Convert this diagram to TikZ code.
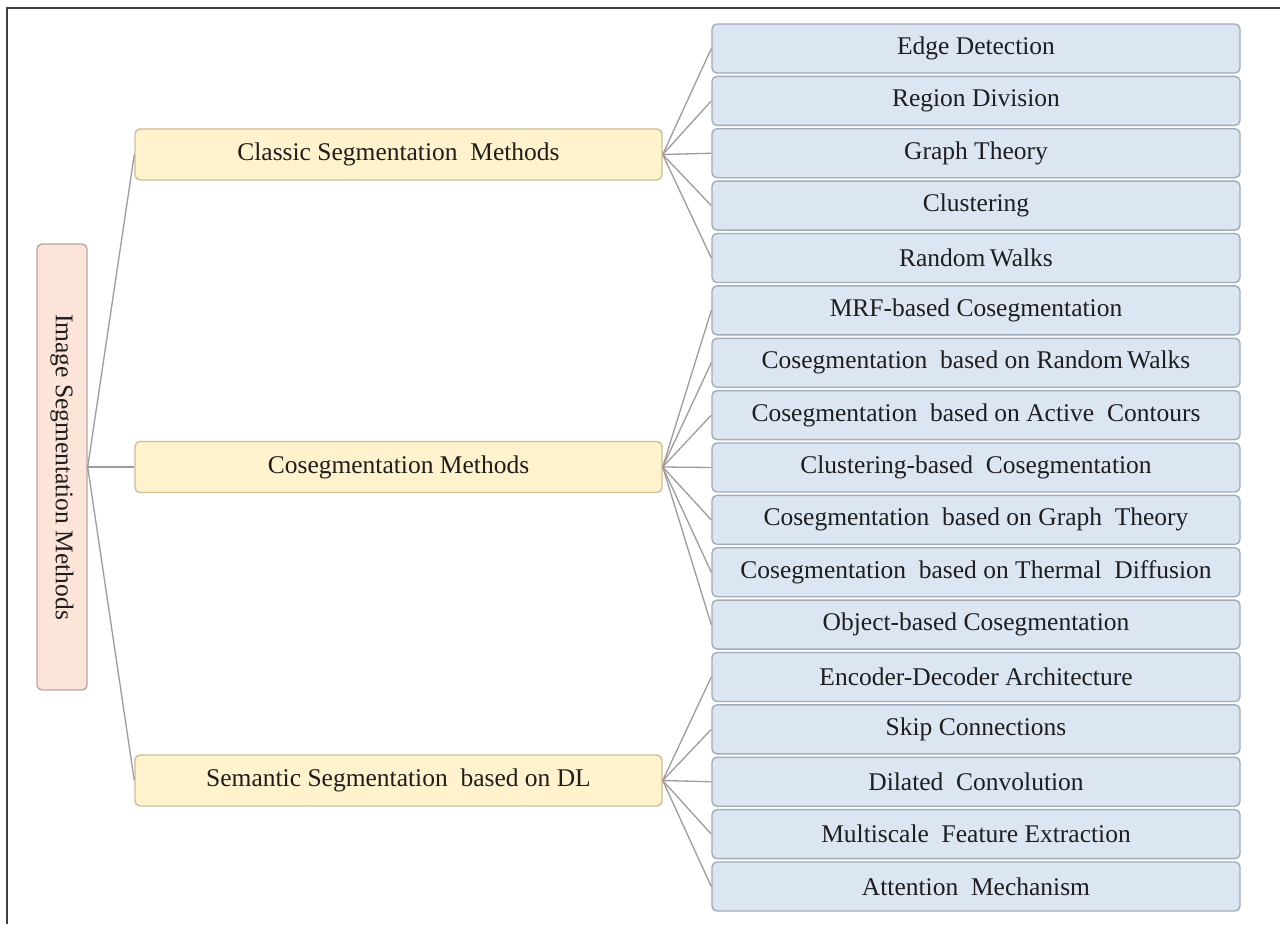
\documentclass[tikz,border=0pt]{standalone}
\usepackage{fontspec}
\setmainfont{Liberation Serif}
\definecolor{leaffill}{HTML}{DCE6F2}
\definecolor{leafline}{HTML}{A0ACBB}
\definecolor{midfill}{HTML}{FFF2CC}
\definecolor{midline}{HTML}{CDBF95}
\definecolor{rootfill}{HTML}{FCE4D8}
\definecolor{rootline}{HTML}{B8A79F}
\definecolor{linkcol}{HTML}{9C9C9C}
\definecolor{txt}{HTML}{1E1E1E}
\begin{document}
\begin{tikzpicture}[x=1pt,y=-1pt,
  boxbase/.style={rounded corners=5pt, line width=1.4pt, inner sep=0pt,
    text=txt, font=\fontsize{25.5}{30}\selectfont},
  leafbox/.style={boxbase, draw=leafline, fill=leaffill,
    minimum width=528pt, minimum height=49pt},
  midbox/.style={boxbase, draw=midline, fill=midfill,
    minimum width=527pt, minimum height=51pt},
  rootbox/.style={boxbase, draw=rootline, fill=rootfill,
    minimum width=446pt, minimum height=50pt, rotate=-90},
  link/.style={draw=linkcol, line width=1.3pt},
  frameline/.style={draw=black!75, line width=1.2pt}]
\useasboundingbox (0,0) rectangle (1280,924);
\fill[white] (0,0) rectangle (1280,924);
\draw[frameline] (7,924) -- (7,8) -- (1280,8);

% root (turned clockwise, so its north side faces right)
\node[rootbox] (root) at (62,467) {Image Segmentation Methods};

% second level
\node[midbox] (m1) at (398.5,154.5) {Classic Segmentation\ \ Methods};
\node[midbox] (m2) at (398.5,467) {Cosegmentation Methods};
\node[midbox] (m3) at (398.5,780.5) {Semantic Segmentation\ \ based on DL};

% leaves
\foreach \i/\t in {
  0/{Edge Detection},
  1/{Region Division},
  2/{Graph Theory},
  3/{Clustering},
  4/{Random\,Walks},
  5/{MRF-based Cosegmentation},
  6/{Cosegmentation\ \ based on Random\,Walks},
  7/{Cosegmentation\ \ based on Active\ \ Contours},
  8/{Clustering-based\ \ Cosegmentation},
  9/{Cosegmentation\ \ based on Graph\ \ Theory},
  10/{Cosegmentation\ \ based on Thermal\ \ Diffusion},
  11/{Object-based Cosegmentation},
  12/{Encoder-Decoder Architecture},
  13/{Skip Connections},
  14/{Dilated\ \ Convolution},
  15/{Multiscale\ \ Feature Extraction},
  16/{Attention\ \ Mechanism}}
{
  \node[leafbox] (l\i) at (976,48.5+52.375*\i) {\t};
}

% root to second level
\foreach \m in {m1,m2,m3}
  \draw[link] (root.north) -- (\m.west);

% second level to leaves
\foreach \i in {0,...,4}
  \draw[link] (m1.east) -- (l\i.west);
\foreach \i in {5,...,11}
  \draw[link] (m2.east) -- (l\i.west);
\foreach \i in {12,...,16}
  \draw[link] (m3.east) -- (l\i.west);
\end{tikzpicture}
\end{document}
